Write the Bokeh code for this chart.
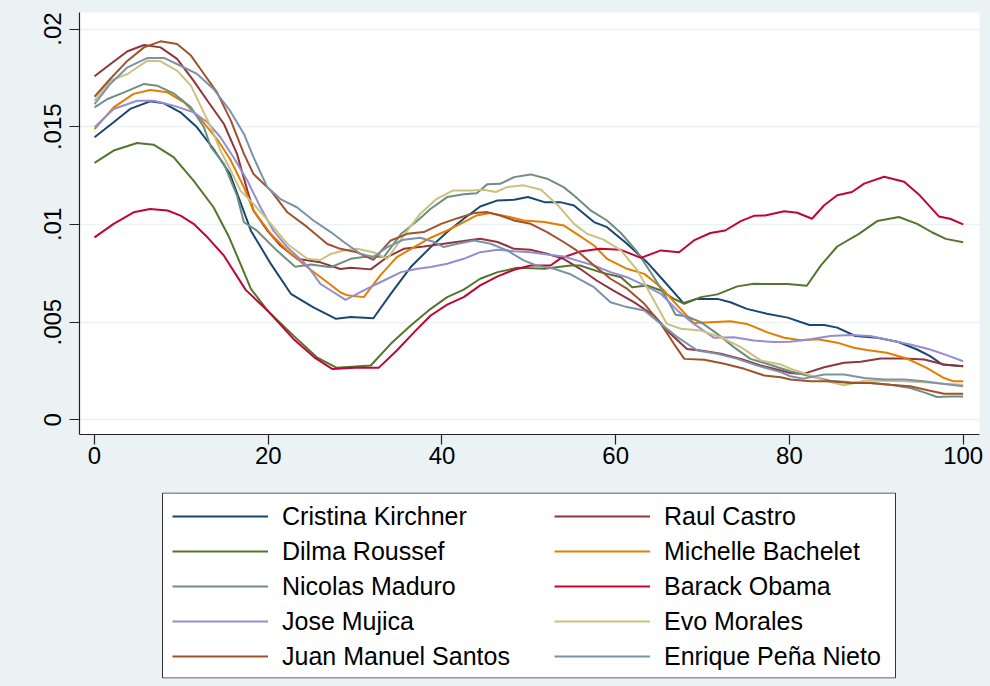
from bokeh.plotting import figure
from bokeh.models import Range1d, FixedTicker, Legend, LegendItem, BoxAnnotation
from bokeh.layouts import column
from bokeh.embed import file_html
from bokeh.resources import INLINE

BG = "#EAF2F3"
FONT = "Liberation Sans"

# ---- data (kernel density estimates) ----
cristina_x = [0, 2.2, 4.1, 6.4, 8.0, 9.9, 11.8, 13.7, 15.6, 18.0, 20.3, 22.6, 25.2, 27.8, 29.5, 32.1, 34.1, 36.4, 38.7, 40.6, 42.5, 44.4, 46.4, 48.3, 49.9, 51.8, 53.6, 55.2, 57.5, 59.0, 61.3, 63.6, 65.5, 67.8, 69.3, 71.7, 73.2, 75.1, 77.4, 79.8, 82.3, 84.0, 85.5, 87.6, 90.1, 92.4, 94.7, 96.2, 97.6, 100]
cristina_y = [14.46e-3, 15.23e-3, 15.91e-3, 16.3e-3, 16.2e-3, 15.74e-3, 14.97e-3, 13.86e-3, 12.58e-3, 9.68e-3, 7.98e-3, 6.45e-3, 5.76e-3, 5.17e-3, 5.26e-3, 5.2e-3, 6.45e-3, 7.82e-3, 8.84e-3, 9.61e-3, 10.29e-3, 10.92e-3, 11.23e-3, 11.26e-3, 11.4e-3, 11.14e-3, 11.14e-3, 10.97e-3, 10.12e-3, 9.86e-3, 9.01e-3, 8.07e-3, 7.13e-3, 5.97e-3, 6.19e-3, 6.19e-3, 6.02e-3, 5.68e-3, 5.43e-3, 5.23e-3, 4.85e-3, 4.85e-3, 4.72e-3, 4.29e-3, 4.2e-3, 4.0e-3, 3.6e-3, 3.26e-3, 2.83e-3, 2.74e-3]

raul_x = [0, 1.8, 3.8, 5.7, 7.6, 9.5, 11.4, 13.0, 14.9, 16.4, 17.6, 18.3, 19.9, 21.4, 23.3, 26.0, 28.3, 29.5, 31.8, 33.7, 35.6, 37.9, 40.2, 42.5, 44.4, 46.4, 48.3, 50.2, 52.1, 54.0, 55.9, 57.8, 59.7, 62.1, 64.4, 66.3, 68.2, 69.8, 72.1, 74.4, 76.7, 79.0, 80.1, 81.6, 84.0, 86.3, 88.2, 90.5, 93.2, 95.5, 97.8, 100]
raul_y = [17.58e-3, 18.2e-3, 18.86e-3, 19.18e-3, 19.06e-3, 18.47e-3, 17.36e-3, 16.33e-3, 15.14e-3, 13.61e-3, 11.73e-3, 10.71e-3, 9.68e-3, 8.92e-3, 8.24e-3, 8.06e-3, 7.72e-3, 7.78e-3, 7.7e-3, 8.33e-3, 8.75e-3, 8.87e-3, 9.01e-3, 9.15e-3, 9.27e-3, 9.1e-3, 8.75e-3, 8.7e-3, 8.5e-3, 8.24e-3, 7.73e-3, 7.13e-3, 6.62e-3, 6.02e-3, 5.34e-3, 4.4e-3, 3.63e-3, 3.55e-3, 3.38e-3, 3.12e-3, 2.78e-3, 2.53e-3, 2.4e-3, 2.35e-3, 2.69e-3, 2.92e-3, 2.97e-3, 3.14e-3, 3.14e-3, 3.09e-3, 2.83e-3, 2.74e-3]

dilma_x = [0, 2.2, 4.9, 6.8, 9.1, 11.4, 13.7, 15.5, 16.8, 18.0, 19.9, 22.9, 25.6, 27.9, 31.8, 34.1, 36.4, 38.7, 40.6, 42.5, 44.4, 46.4, 48.7, 51.8, 54.8, 55.9, 58.2, 60.6, 61.9, 63.6, 65.2, 66.7, 67.9, 69.8, 71.7, 74.0, 75.9, 79.8, 82.0, 83.6, 85.5, 88.0, 90.1, 92.6, 94.7, 96.4, 98.0, 100]
dilma_y = [13.15e-3, 13.78e-3, 14.17e-3, 14.08e-3, 13.44e-3, 12.24e-3, 10.88e-3, 9.34e-3, 7.98e-3, 6.7e-3, 5.6e-3, 4.31e-3, 3.2e-3, 2.66e-3, 2.78e-3, 3.89e-3, 4.83e-3, 5.68e-3, 6.28e-3, 6.66e-3, 7.22e-3, 7.56e-3, 7.78e-3, 7.73e-3, 7.9e-3, 7.9e-3, 7.56e-3, 7.3e-3, 6.79e-3, 6.88e-3, 6.62e-3, 6.19e-3, 5.94e-3, 6.28e-3, 6.42e-3, 6.83e-3, 6.96e-3, 6.95e-3, 6.86e-3, 7.89e-3, 8.87e-3, 9.52e-3, 10.17e-3, 10.38e-3, 10.03e-3, 9.6e-3, 9.26e-3, 9.09e-3]

michelle_x = [0, 2.2, 4.5, 6.4, 8.4, 10.3, 12.2, 14.1, 15.6, 17.2, 18.3, 20.3, 22.2, 24.5, 26.8, 28.3, 29.1, 31.0, 32.9, 34.8, 36.8, 38.7, 40.6, 42.5, 44.0, 45.5, 47.5, 49.4, 51.8, 54.0, 55.5, 57.5, 59.0, 61.3, 63.3, 65.2, 67.1, 69.0, 70.9, 73.2, 75.1, 77.4, 79.4, 81.3, 83.3, 85.5, 87.4, 88.9, 91.2, 93.5, 95.8, 97.8, 98.9, 100]
michelle_y = [14.88e-3, 15.99e-3, 16.68e-3, 16.88e-3, 16.76e-3, 16.25e-3, 15.4e-3, 14.37e-3, 13.35e-3, 11.9e-3, 10.71e-3, 9.51e-3, 8.66e-3, 7.81e-3, 7.04e-3, 6.53e-3, 6.37e-3, 6.28e-3, 7.39e-3, 8.33e-3, 8.84e-3, 9.32e-3, 9.69e-3, 10.12e-3, 10.46e-3, 10.58e-3, 10.41e-3, 10.2e-3, 10.12e-3, 9.95e-3, 9.52e-3, 8.92e-3, 8.24e-3, 7.73e-3, 7.47e-3, 6.79e-3, 5.85e-3, 4.95e-3, 5.0e-3, 5.05e-3, 4.91e-3, 4.49e-3, 4.2e-3, 4.07e-3, 4.12e-3, 3.95e-3, 3.69e-3, 3.57e-3, 3.43e-3, 3.14e-3, 2.66e-3, 2.14e-3, 1.97e-3, 1.97e-3]

nicolas_x = [0, 1.5, 3.4, 5.7, 7.2, 9.1, 11.1, 12.6, 13.4, 14.9, 16.4, 17.2, 18.7, 21.0, 23.1, 24.9, 27.2, 29.5, 31.4, 33.3, 35.3, 37.2, 38.7, 40.6, 42.5, 44.0, 45.2, 46.7, 48.3, 50.2, 52.1, 54.0, 55.2, 57.1, 59.0, 60.6, 62.5, 64.4, 65.9, 66.9, 68.2, 69.8, 71.7, 73.6, 75.5, 77.4, 80.1, 82.4, 84.7, 87.0, 89.3, 91.6, 93.9, 95.4, 97.0, 98.5, 100]
nicolas_y = [15.99e-3, 16.42e-3, 16.76e-3, 17.19e-3, 17.1e-3, 16.71e-3, 15.99e-3, 14.97e-3, 13.95e-3, 13.1e-3, 11.48e-3, 10.11e-3, 9.68e-3, 8.66e-3, 7.84e-3, 7.95e-3, 7.81e-3, 8.24e-3, 8.36e-3, 8.33e-3, 9.52e-3, 10.2e-3, 10.8e-3, 11.4e-3, 11.54e-3, 11.6e-3, 12.05e-3, 12.08e-3, 12.42e-3, 12.56e-3, 12.34e-3, 11.91e-3, 11.48e-3, 10.72e-3, 10.2e-3, 9.56e-3, 8.58e-3, 7.3e-3, 6.19e-3, 5.38e-3, 5.29e-3, 5.0e-3, 4.4e-3, 3.72e-3, 3.12e-3, 2.87e-3, 2.49e-3, 2.23e-3, 2.0e-3, 1.92e-3, 1.89e-3, 1.8e-3, 1.63e-3, 1.42e-3, 1.17e-3, 1.2e-3, 1.2e-3]

barack_x = [0, 2.2, 4.5, 6.4, 8.4, 9.9, 11.4, 13.0, 14.9, 17.4, 19.9, 22.9, 25.3, 27.4, 30.0, 32.7, 34.8, 36.8, 38.7, 40.6, 42.5, 44.4, 46.4, 48.3, 50.2, 52.5, 53.6, 55.9, 58.2, 60.6, 62.9, 65.2, 67.3, 69.0, 70.9, 72.6, 74.4, 75.9, 77.2, 79.4, 80.9, 82.6, 84.0, 85.5, 87.2, 88.6, 90.9, 93.2, 95.0, 97.2, 98.5, 100]
barack_y = [9.34e-3, 10.03e-3, 10.62e-3, 10.79e-3, 10.71e-3, 10.45e-3, 10.03e-3, 9.34e-3, 8.4e-3, 6.65e-3, 5.6e-3, 4.14e-3, 3.2e-3, 2.6e-3, 2.66e-3, 2.66e-3, 3.55e-3, 4.49e-3, 5.34e-3, 5.9e-3, 6.28e-3, 6.88e-3, 7.34e-3, 7.68e-3, 7.9e-3, 7.9e-3, 8.25e-3, 8.62e-3, 8.75e-3, 8.7e-3, 8.29e-3, 8.67e-3, 8.58e-3, 9.18e-3, 9.56e-3, 9.69e-3, 10.17e-3, 10.44e-3, 10.46e-3, 10.67e-3, 10.6e-3, 10.29e-3, 10.98e-3, 11.49e-3, 11.66e-3, 12.09e-3, 12.44e-3, 12.18e-3, 11.49e-3, 10.41e-3, 10.29e-3, 10.0e-3]

jose_x = [0, 2.2, 4.9, 6.8, 9.1, 11.4, 13.0, 14.5, 16.0, 17.6, 19.1, 20.6, 22.2, 24.5, 26.0, 27.2, 28.9, 31.0, 33.3, 35.3, 37.2, 38.7, 40.6, 42.5, 44.4, 46.4, 48.3, 50.2, 52.1, 54.0, 55.5, 57.5, 59.4, 61.3, 63.3, 65.2, 67.1, 69.0, 71.3, 73.6, 75.9, 78.2, 80.1, 82.4, 84.7, 87.0, 89.3, 91.6, 93.9, 96.2, 98.1, 100]
jose_y = [14.97e-3, 15.91e-3, 16.33e-3, 16.33e-3, 16.08e-3, 15.74e-3, 15.23e-3, 14.46e-3, 13.44e-3, 12.24e-3, 10.88e-3, 9.68e-3, 8.83e-3, 7.89e-3, 6.96e-3, 6.62e-3, 6.14e-3, 6.62e-3, 7.13e-3, 7.56e-3, 7.73e-3, 7.82e-3, 7.99e-3, 8.24e-3, 8.58e-3, 8.7e-3, 8.63e-3, 8.58e-3, 8.46e-3, 8.36e-3, 8.16e-3, 7.9e-3, 7.56e-3, 7.3e-3, 6.88e-3, 6.45e-3, 5.6e-3, 4.91e-3, 4.2e-3, 4.23e-3, 4.06e-3, 3.98e-3, 4.0e-3, 4.12e-3, 4.29e-3, 4.34e-3, 4.29e-3, 4.07e-3, 3.86e-3, 3.6e-3, 3.31e-3, 3.0e-3]

evo_x = [0, 1.8, 3.8, 6.1, 7.6, 9.5, 11.1, 12.2, 13.4, 14.5, 15.7, 16.8, 18.3, 20.3, 22.2, 24.5, 26.0, 27.2, 28.7, 30.2, 32.1, 33.7, 35.6, 37.5, 39.4, 41.3, 43.3, 44.8, 46.2, 47.5, 49.4, 51.4, 53.3, 55.2, 56.7, 58.6, 60.6, 62.5, 64.4, 65.9, 67.5, 69.8, 72.1, 74.4, 76.7, 79.0, 80.1, 82.4, 84.3, 86.3, 88.6, 90.9, 93.2, 95.5, 97.8, 100]
evo_y = [16.33e-3, 17.36e-3, 17.7e-3, 18.38e-3, 18.35e-3, 17.87e-3, 17.1e-3, 16.08e-3, 14.97e-3, 13.78e-3, 12.75e-3, 11.73e-3, 11.05e-3, 10.03e-3, 9.0e-3, 8.24e-3, 8.18e-3, 8.49e-3, 8.67e-3, 8.75e-3, 8.58e-3, 8.24e-3, 9.44e-3, 10.55e-3, 11.31e-3, 11.74e-3, 11.74e-3, 11.77e-3, 11.66e-3, 11.91e-3, 12.0e-3, 11.77e-3, 11.0e-3, 10.03e-3, 9.52e-3, 9.22e-3, 8.67e-3, 7.65e-3, 6.11e-3, 4.91e-3, 4.66e-3, 4.57e-3, 4.23e-3, 3.72e-3, 3.04e-3, 2.83e-3, 2.62e-3, 2.28e-3, 1.97e-3, 1.77e-3, 2.0e-3, 2.0e-3, 1.97e-3, 1.92e-3, 1.85e-3, 1.8e-3]

juan_x = [0, 1.8, 3.8, 5.7, 7.6, 9.5, 11.1, 12.6, 14.1, 15.7, 17.2, 18.3, 20.3, 22.2, 24.5, 26.8, 28.3, 30.2, 32.1, 34.1, 36.0, 37.9, 39.9, 41.8, 43.7, 45.2, 46.7, 48.3, 50.2, 52.1, 54.0, 55.5, 57.5, 59.4, 61.3, 63.3, 65.2, 66.7, 67.9, 70.2, 72.5, 74.8, 77.1, 79.0, 80.1, 82.4, 84.7, 87.0, 89.3, 91.6, 93.9, 96.2, 97.8, 100]
juan_y = [16.54e-3, 17.44e-3, 18.38e-3, 19.06e-3, 19.37e-3, 19.23e-3, 18.64e-3, 17.7e-3, 16.76e-3, 15.31e-3, 13.61e-3, 12.58e-3, 11.73e-3, 10.62e-3, 9.86e-3, 9.0e-3, 8.75e-3, 8.58e-3, 8.19e-3, 9.18e-3, 9.52e-3, 9.61e-3, 10.03e-3, 10.32e-3, 10.58e-3, 10.63e-3, 10.46e-3, 10.2e-3, 10.03e-3, 9.61e-3, 9.1e-3, 8.67e-3, 7.9e-3, 7.22e-3, 6.71e-3, 5.94e-3, 4.91e-3, 3.89e-3, 3.12e-3, 3.07e-3, 2.87e-3, 2.61e-3, 2.27e-3, 2.18e-3, 2.06e-3, 1.97e-3, 1.97e-3, 1.89e-3, 1.89e-3, 1.8e-3, 1.72e-3, 1.49e-3, 1.34e-3, 1.34e-3]

enrique_x = [0, 1.8, 3.8, 6.1, 8.0, 9.9, 11.8, 13.7, 15.6, 17.2, 18.3, 19.9, 21.4, 23.3, 25.2, 27.2, 28.7, 30.6, 32.1, 33.7, 35.6, 37.5, 39.1, 40.2, 41.8, 43.7, 45.6, 47.5, 49.4, 50.9, 52.9, 54.8, 57.5, 59.4, 61.3, 63.3, 65.2, 67.1, 69.4, 71.7, 74.0, 76.3, 79.0, 80.1, 81.6, 84.0, 86.3, 88.6, 90.9, 93.2, 95.5, 97.8, 100]
enrique_y = [16.16e-3, 17.19e-3, 18.04e-3, 18.52e-3, 18.52e-3, 18.12e-3, 17.7e-3, 16.93e-3, 15.82e-3, 14.63e-3, 13.44e-3, 11.9e-3, 11.3e-3, 10.88e-3, 10.2e-3, 9.61e-3, 9.1e-3, 8.5e-3, 8.33e-3, 8.84e-3, 9.22e-3, 9.32e-3, 9.1e-3, 8.84e-3, 9.01e-3, 9.18e-3, 9.01e-3, 8.67e-3, 8.16e-3, 7.9e-3, 7.73e-3, 7.45e-3, 6.79e-3, 6.02e-3, 5.77e-3, 5.6e-3, 4.91e-3, 4.23e-3, 3.55e-3, 3.38e-3, 3.12e-3, 2.78e-3, 2.44e-3, 2.23e-3, 2.11e-3, 2.32e-3, 2.32e-3, 2.14e-3, 2.06e-3, 2.06e-3, 1.97e-3, 1.84e-3, 1.72e-3]

names = ["Cristina Kirchner", "Raul Castro", "Dilma Roussef", "Michelle Bachelet",
         "Nicolas Maduro", "Barack Obama", "Jose Mujica", "Evo Morales",
         "Juan Manuel Santos", "Enrique Peña Nieto"]
colors = ["#1A476F", "#90353B", "#55752F", "#E37E00", "#6E8E84",
          "#C10534", "#938DD2", "#CAC27E", "#A0522D", "#7B92A8"]
series_x = [cristina_x, raul_x, dilma_x, michelle_x, nicolas_x,
            barack_x, jose_x, evo_x, juan_x, enrique_x]
series_y = [cristina_y, raul_y, dilma_y, michelle_y, nicolas_y,
            barack_y, jose_y, evo_y, juan_y, enrique_y]

x_ticks = [0, 20, 40, 60, 80, 100]
y_ticks = [0, 0.005, 0.01, 0.015, 0.02]
y_labels = ["0", ".005", ".01", ".015", ".02"]

# ---- main plot ----
p = figure(width=990, height=488, output_backend="svg", toolbar_location=None,
           x_range=Range1d(-1.73, 101.88), y_range=Range1d(-0.00075, 0.020845),
           min_border_left=79, min_border_right=11, min_border_top=12, min_border_bottom=54)
p.background_fill_color = "white"
p.border_fill_color = BG
p.outline_line_color = None

for xs, ys, c in zip(series_x, series_y, colors):
    p.line(xs, ys, line_color=c, line_width=2)

p.xgrid.visible = False
p.ygrid.grid_line_color = BG
p.ygrid.grid_line_width = 1.5
p.ygrid.ticker = FixedTicker(ticks=y_ticks)

p.xaxis.ticker = FixedTicker(ticks=x_ticks)
p.yaxis.ticker = FixedTicker(ticks=y_ticks)
p.yaxis.major_label_overrides = {t: l for t, l in zip(y_ticks, y_labels)}
p.yaxis.major_label_orientation = "vertical"
for ax in (p.xaxis, p.yaxis):
    ax.axis_line_color = "#222222"
    ax.axis_line_width = 1.2
    ax.major_tick_line_color = "#222222"
    ax.major_tick_line_width = 1.2
    ax.major_tick_out = 10
    ax.major_tick_in = 0
    ax.minor_tick_out = 0
    ax.minor_tick_in = 0
    ax.major_label_text_font = FONT
    ax.major_label_text_font_size = "24px"
    ax.major_label_text_color = "black"
p.xaxis.major_label_standoff = 2
p.yaxis.major_label_standoff = 8

# ---- legend panel (frame aligned with the main plot frame; 1 unit = 1 px) ----
lf = figure(width=990, height=198, output_backend="svg", toolbar_location=None,
            x_range=Range1d(0, 900), y_range=Range1d(0, 186),
            x_axis_location=None, y_axis_location=None,
            min_border_left=79, min_border_right=11, min_border_top=4, min_border_bottom=8)
lf.extra_x_ranges = {"keys": Range1d(200, 300)}
lf.grid.visible = False
lf.outline_line_color = None
lf.background_fill_color = BG
lf.border_fill_color = BG

lf.add_layout(BoxAnnotation(left=83, right=816, bottom=0.5, top=185.5,
                            fill_color="white", fill_alpha=1.0,
                            line_color="#333333", line_width=1, line_alpha=1.0))

items = []
for xs, ys, name, c in zip(series_x, series_y, names, colors):
    # same series on an off-screen range; used as legend keys only
    r = lf.line(xs, ys, line_color=c, line_width=2, x_range_name="keys")
    items.append(LegendItem(label=name, renderers=[r]))

common = dict(label_text_font=FONT, label_text_font_size="25px", label_text_color="black",
              glyph_width=96, glyph_height=30, label_height=30, label_standoff=14,
              spacing=5, padding=0, margin=0,
              border_line_color=None, background_fill_alpha=0.0)
leg_left = Legend(items=items[0::2], location=(93, 7), **common)
leg_right = Legend(items=items[1::2], location=(475, 7), **common)
lf.add_layout(leg_left, "center")
lf.add_layout(leg_right, "center")

layout = column(p, lf, spacing=0)
layout.styles = {"background-color": BG}

with open("out.html", "w") as f:
    f.write(file_html(layout, INLINE))
